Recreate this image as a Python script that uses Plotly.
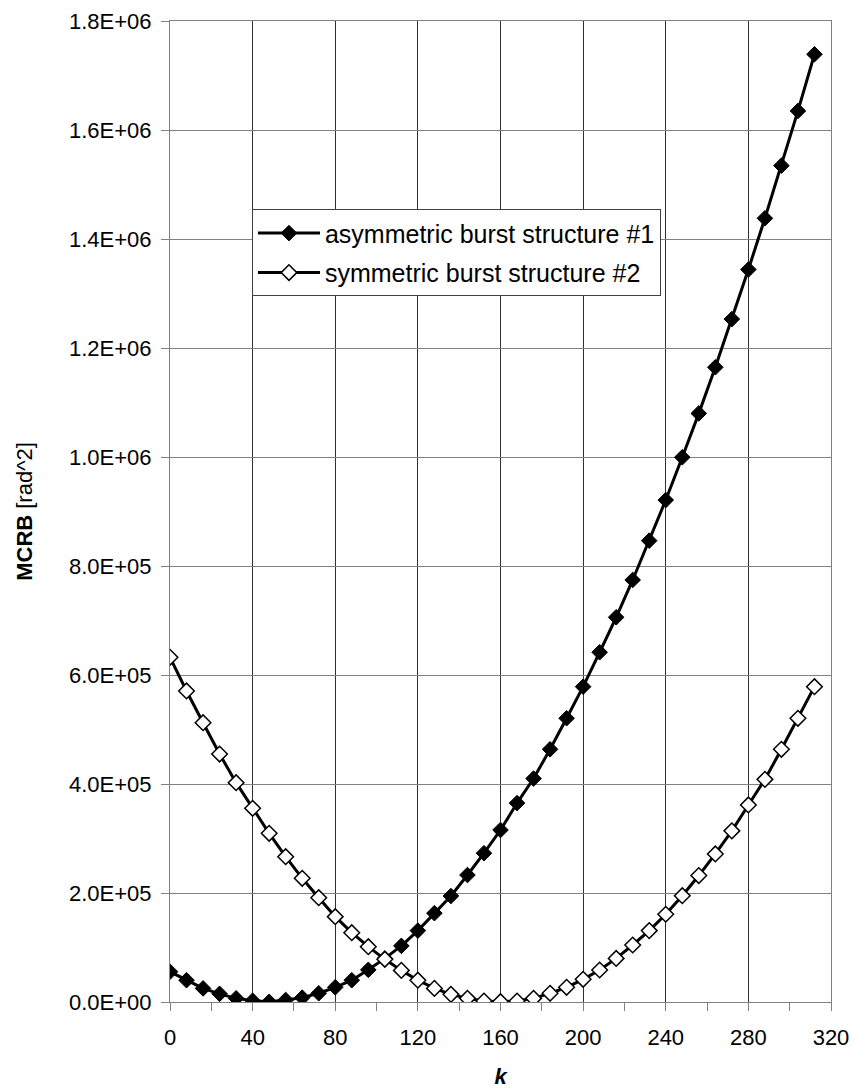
import plotly.graph_objects as go

# Burst index k (every 8 samples)
k = list(range(0, 320, 8))

# MCRB values [rad^2]
mcrb_asym = [
    55600, 40000, 25000, 15000, 6700, 2400, 300, 3700, 8000, 16000,
    27000, 40000, 59000, 80000, 103000, 131000, 163000, 194500, 233000, 273000,
    315600, 365000, 410000, 463700, 520600, 578600, 641700, 705900, 774400, 846500,
    921000, 999500, 1080000, 1164600, 1253000, 1344000, 1438000, 1534600, 1635000, 1739000,
]
mcrb_sym = [
    632500, 570700, 512500, 455000, 402400, 355400, 309500, 266600, 227000, 191400,
    156600, 127200, 101500, 78300, 58000, 40000, 25000, 14000, 6700, 1800,
    500, 1800, 6700, 16000, 27000, 41600, 58700, 80000, 104600, 131000,
    161000, 195000, 232000, 271600, 314000, 361500, 408500, 463700, 520600, 578600,
]

series_names = ["asymmetric burst structure #1", "symmetric burst structure #2"]

x_ticks = [0, 40, 80, 120, 160, 200, 240, 280, 320]
y_tick_vals = [0, 200000, 400000, 600000, 800000, 1000000, 1200000, 1400000, 1600000, 1800000]
y_tick_text = ["0.0E+00", "2.0E+05", "4.0E+05", "6.0E+05", "8.0E+05",
               "1.0E+06", "1.2E+06", "1.4E+06", "1.6E+06", "1.8E+06"]

FONT = "Liberation Sans, Arial, sans-serif"

fig = go.Figure()
fig.add_trace(go.Scatter(
    x=k, y=mcrb_asym, name=series_names[0], mode="lines+markers",
    legendgroup="a",
    line=dict(color="black", width=3),
    marker=dict(symbol="diamond", size=12, color="black",
                line=dict(color="black", width=1)),
))
fig.add_trace(go.Scatter(
    x=k, y=mcrb_sym, name=series_names[1], mode="lines+markers",
    legendgroup="b",
    line=dict(color="black", width=3),
    marker=dict(symbol="diamond", size=12, color="white",
                line=dict(color="black", width=1.5)),
))

fig.update_layout(
    width=853, height=1089,
    margin=dict(l=170, r=22, t=21, b=87),
    paper_bgcolor="white", plot_bgcolor="white",
    font=dict(family=FONT, size=22, color="black"),
    showlegend=True,
    legend=dict(
        x=0.124, y=0.808, xanchor="left", yanchor="top",
        bgcolor="white", bordercolor="#404040", borderwidth=1,
        font=dict(size=25, family=FONT),
        tracegroupgap=4, itemwidth=62,
    ),
)

fig.update_xaxes(
    range=[0, 320], tickvals=x_ticks, ticks="outside", ticklen=8,
    tickcolor="#808080", tickwidth=1, ticklabelstandoff=8,
    minor=dict(dtick=20, ticks="outside", ticklen=8, tickcolor="#808080", showgrid=False),
    showgrid=True, gridcolor="#303030", gridwidth=1,
    showline=True, linecolor="#808080", linewidth=1, mirror=True,
    zeroline=False, automargin=False,
    title=dict(text="<b><i>k</i></b>", font=dict(size=22), standoff=22),
)
fig.update_yaxes(
    range=[0, 1800000], tickvals=y_tick_vals, ticktext=y_tick_text,
    ticks="outside", ticklen=8, tickcolor="#808080", tickwidth=1,
    ticklabelstandoff=5,
    showgrid=True, gridcolor="#808080", gridwidth=1,
    showline=True, linecolor="#808080", linewidth=1, mirror=True,
    zeroline=False, automargin=False,
    title=dict(text="<b>MCRB</b> [rad^2]", font=dict(size=22), standoff=30),
)

fig.write_html("out.html")
